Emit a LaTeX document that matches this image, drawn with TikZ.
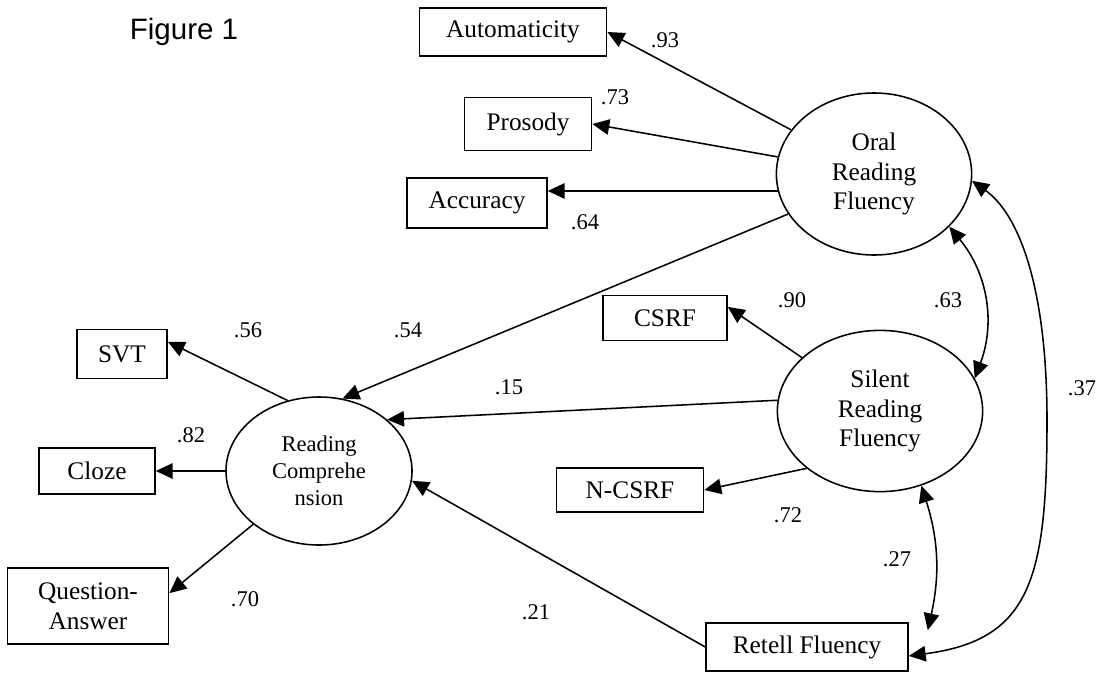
\documentclass[tikz,border=0pt]{standalone}
\usepackage{fontspec}
\setmainfont{Liberation Serif}
\newfontfamily\figfont{Liberation Sans}
\usepackage{tikz}
\usetikzlibrary{arrows.meta,shapes.geometric}

\begin{document}
\begin{tikzpicture}[x=0.025cm,y=0.025cm,
		box/.style={draw,line width=1.1pt,inner sep=0pt,font=\fontsize{18}{21}\selectfont},
		latent/.style={draw,ellipse,line width=1.1pt,inner sep=0pt,align=center,font=\fontsize{18}{21}\selectfont},
		coef/.style={inner sep=0pt,font=\fontsize{16}{19}\selectfont},
		arr/.style={-{Triangle[length=12pt,width=11pt]},line width=1.1pt},
		dbl/.style={{Triangle[length=12pt,width=11pt]}-{Triangle[length=12pt,width=11pt]},line width=1.1pt}]
		\useasboundingbox (0,0) rectangle (1103,-672);
		% 标题
		\node[font=\figfont\fontsize{21}{25}\selectfont] (fig) at (184,-32) {Figure 1};
		% 观测变量
		\node[box,minimum width=4.68cm,minimum height=1.2cm] (auto) at (513,-32) {Automaticity};
		\node[box,minimum width=3.18cm,minimum height=1.33cm] (pros) at (528,-124) {Prosody};
		\node[box,minimum width=3.5cm,minimum height=1.25cm] (acc) at (477,-203) {Accuracy};
		\node[box,minimum width=3.1cm,minimum height=1.13cm] (csrf) at (665,-318) {CSRF};
		\node[box,minimum width=3.68cm,minimum height=1.1cm] (ncsrf) at (630,-490) {N-CSRF};
		\node[box,minimum width=5.05cm,minimum height=1.2cm] (retell) at (807,-647) {Retell Fluency};
		\node[box,minimum width=2.25cm,minimum height=1.23cm] (svt) at (122,-354) {SVT};
		\node[box,minimum width=2.9cm,minimum height=1.15cm] (cloze) at (97,-471) {Cloze};
		\node[box,minimum width=4.03cm,minimum height=1.9cm,align=center] (qa) at (88,-606) {Question-\\Answer};
		\coordinate (rtip) at ([shift={(19,-8)}]retell.north east);
		% 潜变量
		\node[latent,minimum width=4.88cm,minimum height=4.05cm] (orf) at (874,-174) {Oral\\Reading\\Fluency};
		\node[latent,minimum width=5.13cm,minimum height=4.03cm] (srf) at (880,-411) {Silent\\Reading\\Fluency};
		\node[latent,minimum width=4.65cm,minimum height=3.7cm,font=\fontsize{16}{19}\selectfont] (rc) at (319,-471) {Reading\\Comprehe\\nsion};
		% 路径
		\draw[arr] (orf) -- (auto.east);
		\draw[arr] (orf) -- (pros.east);
		\draw[arr] (orf.190) -- (acc.east |- orf.190);
		\draw[arr] (orf.205) -- (rc.72);
		\draw[arr] (srf) -- (csrf.10);
		\draw[arr] (srf.174) -- (rc.37);
		\draw[arr] (srf.218) -- (ncsrf.east);
		\draw[arr] (retell.west) -- (rc.-6);
		\draw[arr] (rc.114) -- (svt.15);
		\draw[arr] (rc) -- (cloze);
		\draw[arr] (rc.219) -- (qa.9);
		% 相关
		\draw[dbl] (orf.-35) to[bend left=30] (srf.19);
		\draw[dbl] (srf.-61) to[bend left=15] (rtip);
		\draw[dbl] (orf.-4) .. controls (1020,-215) and (1047,-290) .. (1047,-420)
			.. controls (1047,-580) and (1030,-640) .. (retell.-5);
		% 系数
		\node[coef] (c93) at (665,-40) {.93};
		\node[coef] (c73) at (615,-97) {.73};
		\node[coef] (c64) at (585,-222) {.64};
		\node[coef] (c56) at (248,-330) {.56};
		\node[coef] (c54) at (408,-330) {.54};
		\node[coef] (c82) at (191,-435) {.82};
		\node[coef] (c70) at (245,-599) {.70};
		\node[coef] (c90) at (792,-300) {.90};
		\node[coef] (c63) at (948,-300) {.63};
		\node[coef] (c15) at (509,-387) {.15};
		\node[coef] (c72) at (788,-515) {.72};
		\node[coef] (c27) at (897,-559) {.27};
		\node[coef] (c21) at (536,-612) {.21};
		\node[coef] (c37) at (1082,-388) {.37};
	\end{tikzpicture}
\end{document}
